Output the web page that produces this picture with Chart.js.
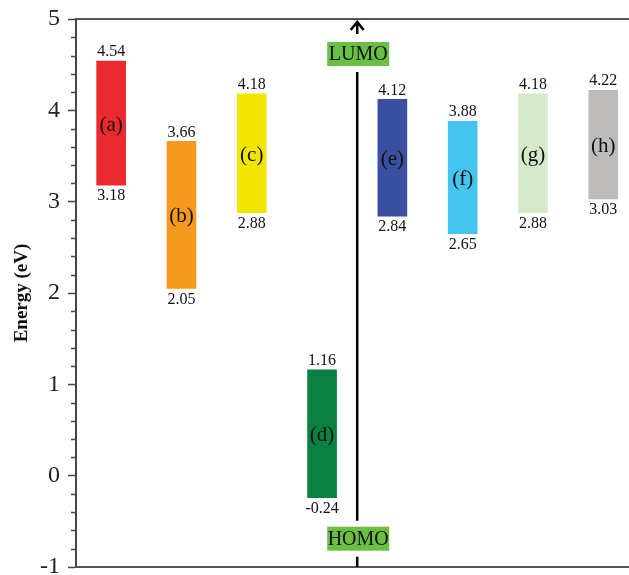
<!DOCTYPE html>
<html>
<head>
<meta charset="utf-8">
<script src="https://cdn.jsdelivr.net/npm/chart.js@4.4.0/dist/chart.umd.min.js"></script>
<style>
html,body{margin:0;padding:0;background:#fff;}
#wrap{width:629px;height:575px;}
</style>
</head>
<body>
<div id="wrap"><canvas id="c" width="629" height="575"></canvas></div>
<script>
// ---- data ----
const categories = ['(a)','(b)','(c)','(d)','(e)','(f)','(g)','(h)'];
const lumoValues = [4.54, 3.66, 4.18, 1.16, 4.12, 3.88, 4.18, 4.22];
const homoValues = [3.18, 2.05, 2.88, -0.24, 2.84, 2.65, 2.88, 3.03];
const barColors = ['#EA2A2E','#F6991F','#F2E500','#0B8141','#3A4FA0','#44C4EE','#D5E8C9','#BEBCBB'];
const yTicks = [-1, 0, 1, 2, 3, 4, 5];
const separatorX = 3.5;
const lumoBoxValue = 4.617;
const homoBoxValue = -0.69;

const serif = "'Liberation Serif', 'DejaVu Serif', serif";

const decor = {
  id: 'decor',
  beforeDatasetsDraw(chart) {
    const {ctx, chartArea: a, scales: {x, y}} = chart;
    ctx.save();
    // top & bottom frame lines
    ctx.strokeStyle = '#555';
    ctx.lineWidth = 2;
    ctx.beginPath();
    ctx.moveTo(a.left, a.top); ctx.lineTo(a.right, a.top);
    ctx.moveTo(a.left, a.bottom); ctx.lineTo(a.right, a.bottom);
    ctx.stroke();
    // minor ticks
    ctx.strokeStyle = '#444';
    ctx.lineWidth = 1.5;
    ctx.beginPath();
    for (let i = -5; i <= 25; i++) {
      if (i % 5 === 0) continue;
      const py = Math.round(y.getPixelForValue(i / 5)) + 0.5;
      ctx.moveTo(a.left - 5, py); ctx.lineTo(a.left, py);
    }
    ctx.stroke();
    ctx.restore();
  },
  afterDatasetsDraw(chart) {
    const {ctx, chartArea: a, scales: {x, y}} = chart;
    ctx.save();
    // value + letter labels
    ctx.fillStyle = '#111';
    ctx.textAlign = 'center';
    categories.forEach((lab, i) => {
      const px = x.getPixelForValue(i);
      const pTop = y.getPixelForValue(lumoValues[i]);
      const pBot = y.getPixelForValue(homoValues[i]);
      ctx.font = '16px ' + serif;
      ctx.textBaseline = 'bottom';
      ctx.fillText(lumoValues[i].toFixed(2), px, pTop - 1);
      ctx.textBaseline = 'top';
      ctx.fillText(homoValues[i].toFixed(2), px, pBot + 3);
      ctx.font = '21px ' + serif;
      ctx.textBaseline = 'middle';
      ctx.fillText(lab, px, (pTop + pBot) / 2 + 2);
    });
    // separator line with arrow
    const lx = x.getPixelForValue(separatorX);
    const tip = a.top + 3;
    const ly = y.getPixelForValue(lumoBoxValue);
    const hy = y.getPixelForValue(homoBoxValue);
    const bh = 24, bw = 62, gap = 6;
    ctx.strokeStyle = '#000';
    ctx.lineWidth = 2.5;
    ctx.beginPath();
    ctx.moveTo(lx, tip); ctx.lineTo(lx, ly - bh / 2 - gap - 2);
    ctx.moveTo(lx, ly + bh / 2 + gap); ctx.lineTo(lx, hy - bh / 2 - gap);
    ctx.moveTo(lx, hy + bh / 2 + gap); ctx.lineTo(lx, a.bottom);
    ctx.stroke();
    ctx.beginPath();
    ctx.moveTo(lx - 6.5, tip + 8); ctx.lineTo(lx, tip); ctx.lineTo(lx + 6.5, tip + 8);
    ctx.stroke();
    // LUMO / HOMO boxes
    [[ly, 'LUMO'], [hy, 'HOMO']].forEach(([cy, t]) => {
      ctx.fillStyle = '#6CBF45';
      ctx.fillRect(lx + 1 - bw / 2, cy - bh / 2, bw, bh);
      ctx.fillStyle = '#111';
      ctx.font = '20px ' + serif;
      ctx.textAlign = 'center';
      ctx.textBaseline = 'middle';
      ctx.fillText(t, lx + 1, cy + 1);
    });
    ctx.restore();
  }
};

new Chart(document.getElementById('c'), {
  type: 'bar',
  data: {
    datasets: [{
      data: categories.map((c, i) => ({x: i, y: [homoValues[i], lumoValues[i]]})),
      backgroundColor: barColors,
      borderWidth: 0,
      barThickness: 29
    }]
  },
  options: {
    responsive: false,
    animation: false,
    events: [],
    layout: {padding: {top: 19, bottom: 8, left: 0, right: 0}},
    plugins: {legend: {display: false}, tooltip: {enabled: false}},
    scales: {
      x: {
        type: 'linear',
        display: false,
        min: -0.5,
        max: 7.366,
        offset: false
      },
      y: {
        min: yTicks[0],
        max: yTicks[yTicks.length - 1],
        afterBuildTicks(scale) { scale.ticks = yTicks.map(v => ({value: v})); },
        afterFit(scale) {
          scale.width = 76;
          scale.paddingTop = 0;
          scale.paddingBottom = 0;
        },
        ticks: {
          font: {family: serif, size: 24},
          color: '#222',
          padding: 8
        },
        grid: {
          drawOnChartArea: false,
          drawTicks: true,
          tickLength: 8,
          tickColor: '#444',
          tickWidth: 1.5
        },
        border: {display: true, color: '#444', width: 2},
        title: {
          display: true,
          text: 'Energy (eV)',
          font: {family: serif, size: 19, weight: 'bold'},
          color: '#111',
          padding: {top: 11, bottom: 0}
        }
      }
    }
  },
  plugins: [decor]
});
</script>
</body>
</html>
